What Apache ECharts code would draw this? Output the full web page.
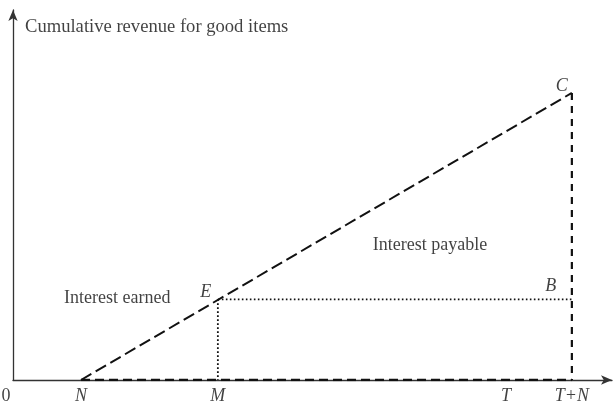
<!DOCTYPE html>
<html><head><meta charset="utf-8">
<script src="https://cdn.jsdelivr.net/npm/echarts@6/dist/echarts.min.js"></script>
<style>html,body{margin:0;padding:0;background:#fff}#c{width:613px;height:406px}</style>
</head><body><div id="c"></div>
<script>
// x positions (arbitrary units 0..100)
var xN = 11.35, xM = 34.2, xT = 82.3, xTN = 93.3;
// y values (0..100)
var yC = 77.6, yE = 21.8;
var tickNames = ['0', 'N', 'M', 'T', 'T+N'];
var tickX = [0, xN, xM, xT, xTN];
var pointNames = ['C', 'E', 'B'];
var pointXY = [[xTN, yC], [xM, yE], [xTN, yE]];
var areaNames = ['Interest payable', 'Interest earned'];
var areaXY = [[69.6, 36.5], [17.4, 22]];
var yTitle = 'Cumulative revenue for good items';

var font = 'Liberation Serif';
var chart = echarts.init(document.getElementById('c'));
var tickData = tickNames.map(function(n, i){
  return {value:[tickX[i], 0], label:{formatter:n, fontStyle: n === '0' ? 'normal' : 'italic',
    offset: n === '0' ? [-7, 0] : [0, 0]}};
});
var ptOffsets = [[-10,-7],[-12,-7],[-21,-13]];
var ptData = pointNames.map(function(n,i){
  return {value:pointXY[i], label:{formatter:n, offset:ptOffsets[i]}};
});
var areaData = areaNames.map(function(n,i){
  return {value:areaXY[i], label:{formatter:n}};
});
chart.setOption({
  animation:false,
  grid:{left:13, right:1, top:10, bottom:26},
  xAxis:{type:'value', min:0, max:100, splitLine:{show:false}, axisTick:{show:false}, axisLabel:{show:false},
    axisLine:{show:true, symbol:['none','arrow'], symbolSize:[7,11], lineStyle:{color:'#333', width:1.3}}},
  yAxis:{type:'value', min:0, max:100, splitLine:{show:false}, axisTick:{show:false}, axisLabel:{show:false},
    axisLine:{show:true, symbol:['none','arrow'], symbolSize:[7,11], lineStyle:{color:'#333', width:1.3}}},
  series:[
    {type:'line', data:[[xN,0],[xTN,0]], symbol:'none', lineStyle:{color:'#111', width:2.6, type:[9,5]}, z:5},
    {type:'line', data:[[xN,0],[xTN,yC]], symbol:'none', lineStyle:{color:'#111', width:2, type:[12,5]}},
    {type:'line', data:[[xTN,yC],[xTN,0]], symbol:'none', lineStyle:{color:'#111', width:2.2, type:[7,6]}},
    {type:'line', data:[[xM,yE],[xTN,yE]], symbol:'none', lineStyle:{color:'#111', width:1.8, type:[1.6,2.4]}},
    {type:'line', data:[[xM,yE],[xM,0]], symbol:'none', lineStyle:{color:'#111', width:1.8, type:[1.6,2.4]}},
    {type:'scatter', data:tickData, symbolSize:0, z:10,
      label:{show:true, position:'bottom', distance:7, color:'#111', fontFamily:font, fontSize:18}},
    {type:'scatter', data:ptData, symbolSize:0, z:10,
      label:{show:true, position:'inside', color:'#111', fontFamily:font, fontSize:18, fontStyle:'italic'}},
    {type:'scatter', data:areaData, symbolSize:0, z:10,
      label:{show:true, position:'inside', color:'#111', fontFamily:font, fontSize:18}},
    {type:'scatter', data:[{value:[0,100], label:{formatter:yTitle}}], symbolSize:0, z:10,
      label:{show:true, position:'right', distance:12, offset:[0,17], color:'#111', fontFamily:font, fontSize:18.6}}
  ]
});
</script></body></html>
